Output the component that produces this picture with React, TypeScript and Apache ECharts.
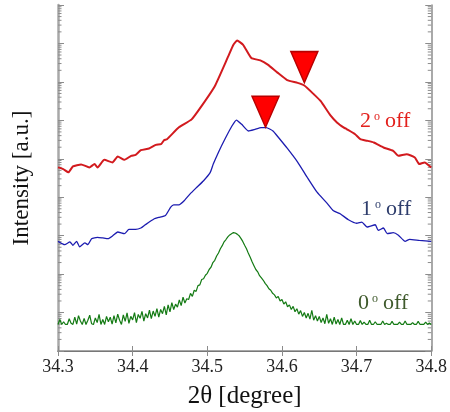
import React, { useEffect, useRef } from 'react';
import * as echarts from 'echarts';

// 2θ (degree) and log10(intensity, a.u.)
const twoThetaRed = [34.300, 34.307, 34.314, 34.320, 34.331, 34.342, 34.349, 34.353, 34.362, 34.373, 34.380, 34.389, 34.398, 34.404, 34.411, 34.422, 34.431, 34.438, 34.442, 34.446, 34.462, 34.479, 34.492, 34.510, 34.528, 34.535, 34.540, 34.548, 34.559, 34.571, 34.581, 34.594, 34.607, 34.621, 34.630, 34.643, 34.652, 34.665, 34.674, 34.683, 34.687, 34.698, 34.705, 34.714, 34.723, 34.736, 34.749, 34.756, 34.767, 34.778, 34.784, 34.791, 34.800];
const logIntensityRed = [4.776, 4.732, 4.647, 4.802, 4.854, 4.776, 4.862, 4.776, 4.973, 4.906, 5.061, 4.973, 5.076, 5.102, 5.224, 5.268, 5.361, 5.379, 5.482, 5.508, 5.818, 6.025, 6.362, 6.887, 7.662, 7.965, 8.076, 7.965, 7.621, 7.559, 7.448, 7.241, 7.047, 6.974, 6.905, 6.672, 6.499, 6.129, 5.940, 5.811, 5.767, 5.638, 5.509, 5.469, 5.423, 5.294, 5.206, 5.076, 5.120, 5.035, 4.862, 4.906, 4.776];

const twoThetaBlue = [34.300, 34.309, 34.316, 34.320, 34.325, 34.329, 34.336, 34.340, 34.345, 34.353, 34.360, 34.367, 34.373, 34.380, 34.389, 34.395, 34.404, 34.411, 34.417, 34.429, 34.435, 34.444, 34.451, 34.455, 34.462, 34.468, 34.477, 34.486, 34.495, 34.504, 34.508, 34.515, 34.524, 34.533, 34.539, 34.546, 34.555, 34.564, 34.572, 34.579, 34.588, 34.594, 34.607, 34.621, 34.634, 34.647, 34.660, 34.669, 34.678, 34.689, 34.700, 34.707, 34.714, 34.725, 34.729, 34.736, 34.741, 34.749, 34.756, 34.765, 34.771, 34.784, 34.800];
const logIntensityBlue = [2.852, 2.767, 2.837, 2.749, 2.852, 2.708, 2.811, 2.767, 2.922, 2.956, 2.940, 2.922, 2.992, 3.095, 3.051, 3.163, 3.163, 3.199, 3.284, 3.439, 3.473, 3.525, 3.742, 3.801, 3.801, 3.887, 4.086, 4.259, 4.430, 4.647, 4.862, 5.172, 5.526, 5.852, 6.007, 5.896, 5.723, 5.767, 5.811, 5.811, 5.723, 5.586, 5.275, 4.913, 4.513, 4.130, 3.853, 3.646, 3.569, 3.414, 3.323, 3.354, 3.225, 3.284, 3.137, 3.199, 3.051, 3.077, 3.013, 2.852, 2.904, 2.878, 2.852];

const twoThetaGreen = [
  34.3000, 34.3025, 34.3050, 34.3075, 34.3100, 34.3125, 34.3150, 34.3175, 34.3200, 34.3225,
  34.3250, 34.3275, 34.3300, 34.3325, 34.3350, 34.3375, 34.3400, 34.3425, 34.3450, 34.3475,
  34.3500, 34.3525, 34.3550, 34.3575, 34.3600, 34.3625, 34.3650, 34.3675, 34.3700, 34.3725,
  34.3750, 34.3775, 34.3800, 34.3825, 34.3850, 34.3875, 34.3900, 34.3925, 34.3950, 34.3975,
  34.4000, 34.4025, 34.4050, 34.4075, 34.4100, 34.4125, 34.4150, 34.4175, 34.4200, 34.4225,
  34.4250, 34.4275, 34.4300, 34.4325, 34.4350, 34.4375, 34.4400, 34.4425, 34.4450, 34.4475,
  34.4500, 34.4525, 34.4550, 34.4575, 34.4600, 34.4625, 34.4650, 34.4675, 34.4700, 34.4725,
  34.4750, 34.4775, 34.4800, 34.4825, 34.4850, 34.4875, 34.4900, 34.4925, 34.4950, 34.4975,
  34.5000, 34.5025, 34.5050, 34.5075, 34.5100, 34.5125, 34.5150, 34.5175, 34.5200, 34.5225,
  34.5250, 34.5275, 34.5300, 34.5325, 34.5350, 34.5375, 34.5400, 34.5425, 34.5450, 34.5475,
  34.5500, 34.5525, 34.5550, 34.5575, 34.5600, 34.5625, 34.5650, 34.5675, 34.5700, 34.5725,
  34.5750, 34.5775, 34.5800, 34.5825, 34.5850, 34.5875, 34.5900, 34.5925, 34.5950, 34.5975,
  34.6000, 34.6025, 34.6050, 34.6075, 34.6100, 34.6125, 34.6150, 34.6175, 34.6200, 34.6225,
  34.6250, 34.6275, 34.6300, 34.6325, 34.6350, 34.6375, 34.6400, 34.6425, 34.6450, 34.6475,
  34.6500, 34.6525, 34.6550, 34.6575, 34.6600, 34.6625, 34.6650, 34.6675, 34.6700, 34.6725,
  34.6750, 34.6775, 34.6800, 34.6825, 34.6850, 34.6875, 34.6900, 34.6925, 34.6950, 34.6975,
  34.7000, 34.7025, 34.7050, 34.7075, 34.7100, 34.7125, 34.7150, 34.7175, 34.7200, 34.7225,
  34.7250, 34.7275, 34.7300, 34.7325, 34.7350, 34.7375, 34.7400, 34.7425, 34.7450, 34.7475,
  34.7500, 34.7525, 34.7550, 34.7575, 34.7600, 34.7625, 34.7650, 34.7675, 34.7700, 34.7725,
  34.7750, 34.7775, 34.7800, 34.7825, 34.7850, 34.7875, 34.7900, 34.7925, 34.7950, 34.7975,
  34.8000,
];
const logIntensityGreen = [
  0.69, 0.82, 0.69, 0.76, 0.69, 0.69, 0.84, 0.72, 0.69, 0.88,
  0.70, 0.92, 0.78, 0.69, 0.85, 0.69, 0.80, 0.93, 0.71, 0.69,
  0.86, 0.74, 0.95, 0.69, 0.82, 0.69, 0.90, 0.76, 0.88, 0.70,
  0.92, 0.73, 0.96, 0.80, 0.69, 0.94, 0.77, 0.99, 0.72, 0.90,
  0.81, 1.00, 0.74, 0.95, 0.85, 1.03, 0.78, 0.97, 0.86, 1.06,
  0.84, 1.04, 0.90, 1.10, 0.88, 1.08, 0.97, 1.16, 0.94, 1.20,
  1.02, 1.26, 1.08, 1.22, 1.14, 1.33, 1.18, 1.40, 1.25, 1.36,
  1.34, 1.50, 1.42, 1.58, 1.55, 1.70, 1.72, 1.86, 1.88, 1.97,
  2.02, 2.12, 2.18, 2.30, 2.36, 2.47, 2.55, 2.66, 2.74, 2.84,
  2.90, 2.97, 3.02, 3.05, 3.08, 3.07, 3.04, 3.00, 2.93, 2.85,
  2.75, 2.66, 2.54, 2.44, 2.32, 2.22, 2.12, 2.06, 1.96, 1.90,
  1.84, 1.76, 1.70, 1.62, 1.58, 1.50, 1.46, 1.38, 1.42, 1.30,
  1.34, 1.22, 1.28, 1.15, 1.20, 1.08, 1.16, 1.02, 1.10, 0.96,
  1.05, 0.90, 1.00, 0.86, 0.98, 0.83, 1.06, 0.80, 0.92, 0.78,
  0.90, 0.74, 0.86, 0.71, 0.95, 0.72, 0.84, 0.69, 0.88, 0.70,
  0.82, 0.69, 0.86, 0.69, 0.69, 0.80, 0.69, 0.84, 0.69, 0.78,
  0.69, 0.69, 0.79, 0.69, 0.75, 0.69, 0.69, 0.80, 0.69, 0.69,
  0.76, 0.69, 0.69, 0.69, 0.78, 0.69, 0.72, 0.69, 0.69, 0.77,
  0.69, 0.69, 0.69, 0.75, 0.69, 0.69, 0.78, 0.69, 0.69, 0.69,
  0.74, 0.69, 0.69, 0.77, 0.69, 0.69, 0.69, 0.75, 0.69, 0.73,
  0.69,
];

// Peak markers (tip position)
const markerTwoTheta = [34.630, 34.578];
const markerLogIntensity = [6.98, 5.82];

const xTickLabels = ['34.3', '34.4', '34.5', '34.6', '34.7', '34.8'];
const decades = [0, 1, 2, 3, 4, 5, 6, 7, 8];
const minorMultipliers = [2, 3, 4, 5, 6, 7, 8, 9];

const SERIF = 'Liberation Serif';
const AXIS_COLOR = '#8c8c8c';

function zip(xs: number[], ys: number[]) {
  return xs.map((x, i) => [x, ys[i]]);
}

function offLabel(x: number, top: number, n: string, color: string) {
  return [
    { type: 'text', left: x, top, style: { text: n, fontFamily: SERIF, fontSize: 22, fill: color } },
    { type: 'text', left: x + 14, top: top + 2, style: { text: 'o', fontFamily: SERIF, fontSize: 12, fill: color } },
    { type: 'text', left: x + 25, top, style: { text: 'off', fontFamily: SERIF, fontSize: 22, fill: color } },
  ];
}

export default function App() {
  const ref = useRef<HTMLDivElement>(null);

  useEffect(() => {
    if (!ref.current) return;
    const chart = echarts.init(ref.current, undefined, { renderer: 'svg' });

    const minorTicks: number[][] = [];
    decades.forEach((k) => minorMultipliers.forEach((d) => minorTicks.push([34.3, k + Math.log10(d)])));

    const xMin = 34.3;
    const xMax = 34.8;

    const option: any = {
      animation: false,
      grid: { left: 58, right: 15, top: 5, bottom: 59 },
      xAxis: [
        {
          type: 'value',
          min: xMin,
          max: xMax,
          interval: 0.1,
          position: 'bottom',
          splitLine: { show: false },
          axisLine: { show: true, lineStyle: { color: AXIS_COLOR, width: 1.5 } },
          axisTick: { show: true, inside: true, length: 5, lineStyle: { color: AXIS_COLOR, width: 1 } },
          axisLabel: {
            show: true,
            margin: 6,
            fontFamily: SERIF,
            fontSize: 18,
            color: '#222',
            formatter: (v: number) => xTickLabels[Math.round((v - xMin) / 0.1)] ?? v.toFixed(1),
          },
          name: '2θ [degree]',
          nameLocation: 'middle',
          nameGap: 31,
          nameTextStyle: { fontFamily: SERIF, fontSize: 25, color: '#111' },
        },
        {
          type: 'value',
          min: xMin,
          max: xMax,
          interval: 0.1,
          position: 'top',
          splitLine: { show: false },
          axisLine: { show: true, lineStyle: { color: '#777', width: 1.2 } },
          axisTick: { show: true, inside: true, length: 5, lineStyle: { color: AXIS_COLOR, width: 1 } },
          axisLabel: { show: false },
        },
      ],
      yAxis: [
        {
          type: 'value',
          min: 0,
          max: 9,
          interval: 1,
          position: 'left',
          splitLine: { show: false },
          axisLine: { show: true, lineStyle: { color: '#a8a8a8', width: 2.5 } },
          axisTick: { show: true, inside: true, length: 6, lineStyle: { color: AXIS_COLOR, width: 1 } },
          axisLabel: { show: false },
          name: 'Intensity [a.u.]',
          nameLocation: 'middle',
          nameGap: 26,
          nameTextStyle: { fontFamily: SERIF, fontSize: 23, color: '#111' },
        },
        {
          type: 'value',
          min: 0,
          max: 9,
          interval: 1,
          position: 'right',
          splitLine: { show: false },
          axisLine: { show: true, lineStyle: { color: AXIS_COLOR, width: 1.5 } },
          axisTick: { show: true, inside: true, length: 6, lineStyle: { color: AXIS_COLOR, width: 1 } },
          axisLabel: { show: false },
        },
      ],
      series: [
        {
          type: 'custom',
          silent: true,
          clip: false,
          data: minorTicks,
          renderItem: (_p: any, api: any) => {
            const v = api.value(1);
            const l = api.coord([xMin, v]);
            const r = api.coord([xMax, v]);
            return {
              type: 'group',
              children: [
                { type: 'line', shape: { x1: l[0], y1: l[1], x2: l[0] + 3.5, y2: l[1] }, style: { stroke: AXIS_COLOR, lineWidth: 1 } },
                { type: 'line', shape: { x1: r[0], y1: r[1], x2: r[0] - 3.5, y2: r[1] }, style: { stroke: AXIS_COLOR, lineWidth: 1 } },
              ],
            };
          },
        },
        {
          type: 'line',
          data: zip(twoThetaGreen, logIntensityGreen),
          showSymbol: false,
          lineStyle: { color: '#137a13', width: 1.2 },
          z: 3,
        },
        {
          type: 'line',
          data: zip(twoThetaBlue, logIntensityBlue),
          showSymbol: false,
          smooth: 0.15,
          lineStyle: { color: '#1c1cb0', width: 1.3 },
          z: 3,
        },
        {
          type: 'line',
          data: zip(twoThetaRed, logIntensityRed),
          showSymbol: false,
          smooth: 0.15,
          lineStyle: { color: '#d21a1e', width: 2 },
          z: 3,
        },
        {
          type: 'scatter',
          data: zip(markerTwoTheta, markerLogIntensity),
          symbol: 'triangle',
          symbolRotate: 180,
          symbolSize: [27, 31],
          symbolOffset: [0, -15.5],
          itemStyle: { color: '#ff0000', borderColor: '#b80000', borderWidth: 1.5, opacity: 1 },
          z: 5,
        },
      ],
      graphic: [
        ...offLabel(360, 108, '2', '#e3201c'),
        ...offLabel(361, 196, '1', '#2e3d6c'),
        ...offLabel(358, 290, '0', '#3f5a2c'),
      ],
    };

    chart.setOption(option);
    return () => chart.dispose();
  }, []);

  return <div ref={ref} style={{ position: 'fixed', left: 0, top: 0, width: 450, height: 412 }} />;
}
